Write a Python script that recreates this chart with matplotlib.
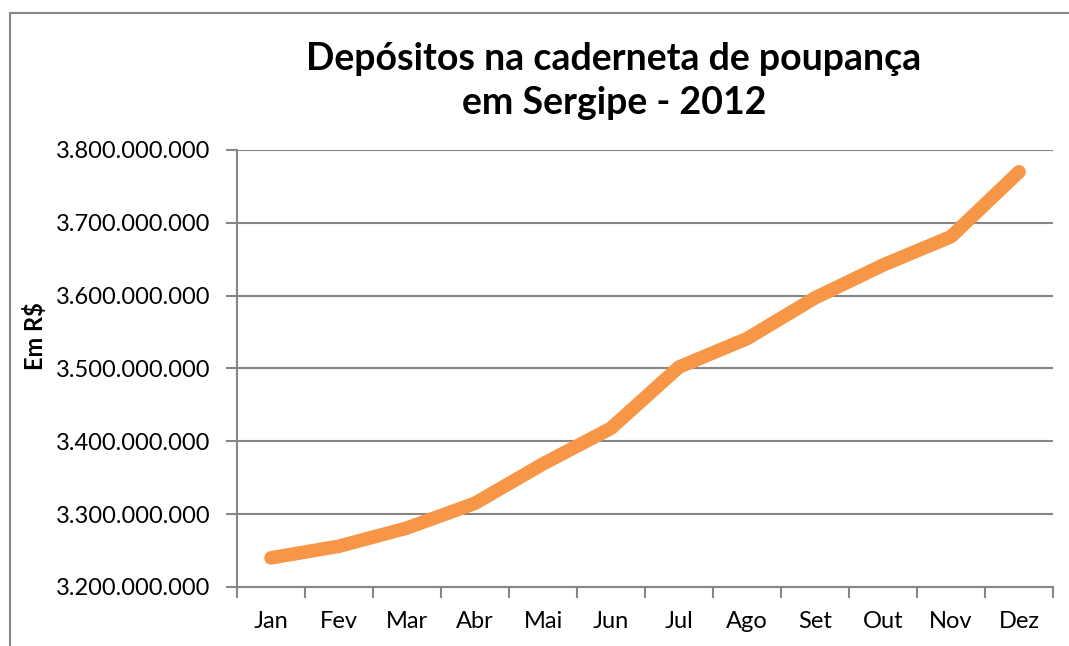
import matplotlib
matplotlib.use("Agg")
import matplotlib.pyplot as plt
from matplotlib.ticker import FuncFormatter
from matplotlib.patches import Rectangle

months = ["Jan", "Fev", "Mar", "Abr", "Mai", "Jun", "Jul", "Ago", "Set", "Out", "Nov", "Dez"]
deposits = [3.240e9, 3.256e9, 3.281e9, 3.315e9, 3.369e9, 3.418e9,
            3.502e9, 3.541e9, 3.597e9, 3.642e9, 3.681e9, 3.770e9]
y_ticks = [3.2e9, 3.3e9, 3.4e9, 3.5e9, 3.6e9, 3.7e9, 3.8e9]

plt.rcParams['font.family'] = ['Lato', 'DejaVu Sans']

W, H = 1069, 646
fig = plt.figure(figsize=(W / 100, H / 100), dpi=100)
fig.patch.set_facecolor("white")

# outer chart border (cropped at right/bottom)
fig.patches.append(Rectangle((10 / W, -0.1), 1.2, 1 - 13 / H + 0.1, transform=fig.transFigure,
                             fill=False, edgecolor="#868686", linewidth=1.5))

ax = fig.add_axes([237 / W, 1 - 587 / H, (1053 - 237) / W, (587 - 150) / H])
x = list(range(len(months)))
ax.plot(x, deposits, color="#F79646", linewidth=9.8, solid_capstyle="round",
        solid_joinstyle="round", zorder=3)

ax.set_xlim(-0.5, len(months) - 0.5)
ax.set_ylim(3.2e9, 3.8e9)
ax.set_yticks(y_ticks)
ax.yaxis.set_major_formatter(FuncFormatter(lambda v, p: f"{v:,.0f}".replace(",", ".")))
ax.set_xticks(x)
ax.set_xticklabels(months)
ax.set_xticks([i - 0.5 for i in range(len(months) + 1)], minor=True)
ax.tick_params(axis="x", which="major", length=0, pad=17, labelsize=17)
ax.tick_params(axis="x", which="minor", length=8, color="#868686", width=1.5)
ax.tick_params(axis="y", length=8, color="#868686", width=1.5, labelsize=17, pad=11)

ax.grid(axis="y", color="#868686", linewidth=1.5)
ax.set_axisbelow(True)
for s in ["top", "right"]:
    ax.spines[s].set_visible(False)
for s in ["left", "bottom"]:
    ax.spines[s].set_color("#868686")
    ax.spines[s].set_linewidth(1.5)

fig.text(614 / W, 1 - 81 / H, "Depósitos na caderneta de poupança\nem Sergipe - 2012",
         ha="center", va="center", fontsize=27, fontweight="bold", linespacing=1.35)
fig.text(35 / W, 1 - 336 / H, "Em R$", rotation=90, ha="center", va="center",
         fontsize=17, fontweight="bold")

fig.savefig("out.png", dpi=100, facecolor="white")
